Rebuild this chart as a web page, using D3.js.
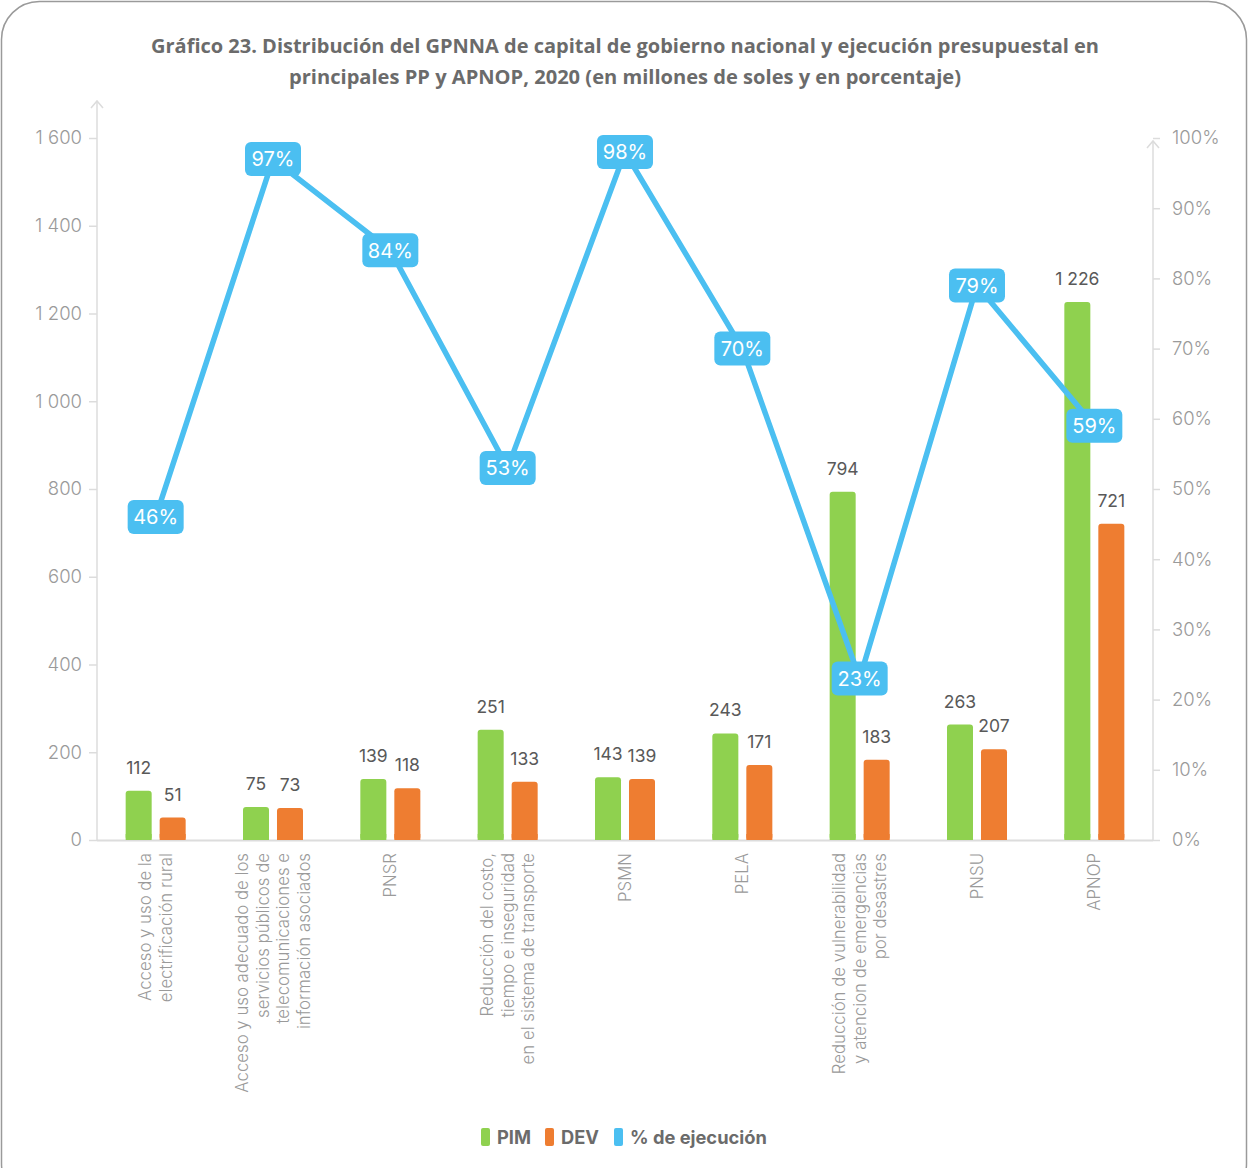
<!DOCTYPE html>
<html><head><meta charset="utf-8">
<script src="https://cdn.jsdelivr.net/npm/d3@7"></script>
<style>
html,body{margin:0;padding:0;background:#fff;}
svg{display:block;}
</style></head>
<body>
<svg id="chart" width="1250" height="1168"></svg>
<script>
const categories = [
  ["Acceso y uso de la","electrificación rural"],
  ["Acceso y uso adecuado de los","servicios públicos de","telecomunicaciones e","información asociados"],
  ["PNSR"],
  ["Reducción del costo,","tiempo e inseguridad","en el sistema de transporte"],
  ["PSMN"],
  ["PELA"],
  ["Reducción de vulnerabilidad","y atencion de emergencias","por desastres"],
  ["PNSU"],
  ["APNOP"]
];
const pim = [112, 75, 139, 251, 143, 243, 794, 263, 1226];
const dev = [51, 73, 118, 133, 139, 171, 183, 207, 721];
const pct = [46, 97, 84, 53, 98, 70, 23, 79, 59];
const leftTicks = [0, 200, 400, 600, 800, 1000, 1200, 1400, 1600];
const rightTicks = [0, 10, 20, 30, 40, 50, 60, 70, 80, 90, 100];
const seriesNames = ["PIM", "DEV", "% de ejecución"];
const titleLines = [
  "Gráfico 23. Distribución del GPNNA de capital de gobierno nacional y ejecución presupuestal en",
  "principales PP y APNOP, 2020 (en millones de soles y en porcentaje)"
];

const colors = {PIM:"#8fd14f", DEV:"#ee7d31", pct:"#4bbff1"};
const fontBody = "Inter, 'Noto Sans', sans-serif";
const svg = d3.select("#chart");

// frame
svg.append("rect").attr("x",1.5).attr("y",1.5).attr("width",1245).attr("height",1200)
  .attr("rx",38).attr("fill","#fff").attr("stroke","#9a9a9a").attr("stroke-width",1.5);

// title
svg.append("g").selectAll("text").data(titleLines).join("text")
  .attr("x",625).attr("y",(d,i)=>53+i*31)
  .attr("text-anchor","middle")
  .attr("font-family","'Open Sans', sans-serif").attr("font-weight",700)
  .attr("font-size",19).attr("fill","#6b6b6b")
  .attr("textLength",(d,i)=> i===0 ? 948 : 672).attr("lengthAdjust","spacingAndGlyphs")
  .text(d=>d);

const L = 97, R = 1153, B = 840, T = 138;
const ids = categories.map((c,i)=>i);
const x = d3.scaleBand().domain(ids).range([L,R]).padding(0);
const y = d3.scaleLinear().domain([0,1600]).range([B,T]);
const y2 = d3.scaleLinear().domain([0,100]).range([B,T]);
const sub = d3.scaleBand().domain(["PIM","DEV"]).range([-30,30]).paddingInner(0.235);

const loc = d3.formatLocale({decimal:",", thousands:" ", grouping:[3], currency:["",""]});
const fmt = loc.format(",d");

// left axis
const ga = svg.append("g").attr("transform",`translate(${L},0)`)
  .call(d3.axisLeft(y).tickValues(leftTicks).tickFormat(fmt).tickSize(8).tickPadding(7));
ga.select(".domain").remove();
ga.selectAll(".tick line").attr("stroke","#dcdcdc").attr("stroke-width",1.5);
ga.selectAll(".tick text").attr("font-family",fontBody).attr("font-weight",300).attr("font-size",18.5).attr("fill","#9a9a9a");
svg.append("line").attr("x1",L).attr("x2",L).attr("y1",B).attr("y2",101).attr("stroke","#dcdcdc").attr("stroke-width",1.5);
svg.append("path").attr("d",`M${L-6},${108}L${L},${101}L${L+6},${108}`).attr("fill","none").attr("stroke","#dcdcdc").attr("stroke-width",1.5);

// right axis
const gr = svg.append("g").attr("transform",`translate(${R},0)`)
  .call(d3.axisRight(y2).tickValues(rightTicks).tickFormat(d=>d+"%").tickSize(7).tickPadding(12));
gr.select(".domain").remove();
gr.selectAll(".tick line").attr("stroke","#dcdcdc").attr("stroke-width",1.5);
gr.selectAll(".tick text").attr("font-family",fontBody).attr("font-weight",300).attr("font-size",18.5).attr("fill","#9a9a9a");
svg.append("line").attr("x1",R).attr("x2",R).attr("y1",B).attr("y2",141).attr("stroke","#dcdcdc").attr("stroke-width",1.5);
svg.append("path").attr("d",`M${R-6},${148}L${R},${141}L${R+6},${148}`).attr("fill","none").attr("stroke","#dcdcdc").attr("stroke-width",1.5);

// baseline
svg.append("line").attr("x1",L).attr("x2",R).attr("y1",B+0.5).attr("y2",B+0.5).attr("stroke","#dcdcdc").attr("stroke-width",2);

const cx = i => x(i) + x.bandwidth()/2;

// bars
const data = ids.map(i=>({i, PIM:pim[i], DEV:dev[i]}));
const gb = svg.append("g");
["PIM","DEV"].forEach(k=>{
  gb.selectAll("rect."+k).data(data).join("rect").attr("class",k)
    .attr("x",d=>cx(d.i)+sub(k)).attr("width",sub.bandwidth())
    .attr("y",d=>y(d[k])).attr("height",d=>B-y(d[k]))
    .attr("rx",3).attr("fill",colors[k]);
  gb.selectAll("rect.b"+k).data(data).join("rect").attr("class","b"+k)
    .attr("x",d=>cx(d.i)+sub(k)).attr("width",sub.bandwidth())
    .attr("y",d=>Math.max(y(d[k]), B-6)).attr("height",d=>B-Math.max(y(d[k]),B-6))
    .attr("fill",colors[k]);
  gb.selectAll("text.v"+k).data(data).join("text").attr("class","v"+k)
    .attr("x",d=>cx(d.i)+sub(k)+sub.bandwidth()/2).attr("y",d=>y(d[k])-17)
    .attr("text-anchor","middle").attr("font-family",fontBody).attr("font-size",17.5)
    .attr("fill","#595959").text(d=>fmt(d[k]));
});

// line
const line = d3.line().x((d,i)=>cx(i)).y(d=>y2(d));
svg.append("path").datum(pct).attr("d",line).attr("fill","none")
  .attr("stroke",colors.pct).attr("stroke-width",5.5).attr("stroke-linejoin","miter");

const gl = svg.append("g").selectAll("g").data(pct).join("g")
  .attr("transform",(d,i)=>`translate(${cx(i)},${y2(d)})`);
gl.append("rect").attr("x",-28).attr("y",-17).attr("width",56).attr("height",34).attr("rx",6)
  .attr("fill",colors.pct);
gl.append("text").attr("text-anchor","middle").attr("dy","0.36em")
  .attr("font-family",fontBody).attr("font-size",20).attr("fill","#fff").text(d=>d+"%");

// x labels
const gx = svg.append("g").selectAll("g").data(categories).join("g")
  .attr("transform",(d,i)=>`translate(${cx(i)},853) rotate(-90)`);
gx.each(function(lines){
  const n = lines.length;
  d3.select(this).selectAll("text").data(lines).join("text")
    .attr("x",0).attr("y",(d,j)=>(j-(n-1)/2)*20.5)
    .attr("dy","0.35em").attr("text-anchor","end")
    .attr("font-family",fontBody).attr("font-weight",300).attr("font-size",16.8).attr("fill","#9a9a9a")
    .text(d=>d);
});

// legend
const legendItems = [
  {name:seriesNames[0], color:colors.PIM, x:481},
  {name:seriesNames[1], color:colors.DEV, x:545},
  {name:seriesNames[2], color:colors.pct, x:614}
];
const lg = svg.append("g").selectAll("g").data(legendItems).join("g")
  .attr("transform",d=>`translate(${d.x},1128)`);
lg.append("rect").attr("width",9).attr("height",18).attr("rx",2).attr("fill",d=>d.color);
lg.append("text").attr("x",16).attr("y",9).attr("dy","0.36em")
  .attr("font-family",fontBody).attr("font-weight",700).attr("font-size",18.3)
  .attr("fill","#6b6b6b").text(d=>d.name);
</script>
</body></html>
